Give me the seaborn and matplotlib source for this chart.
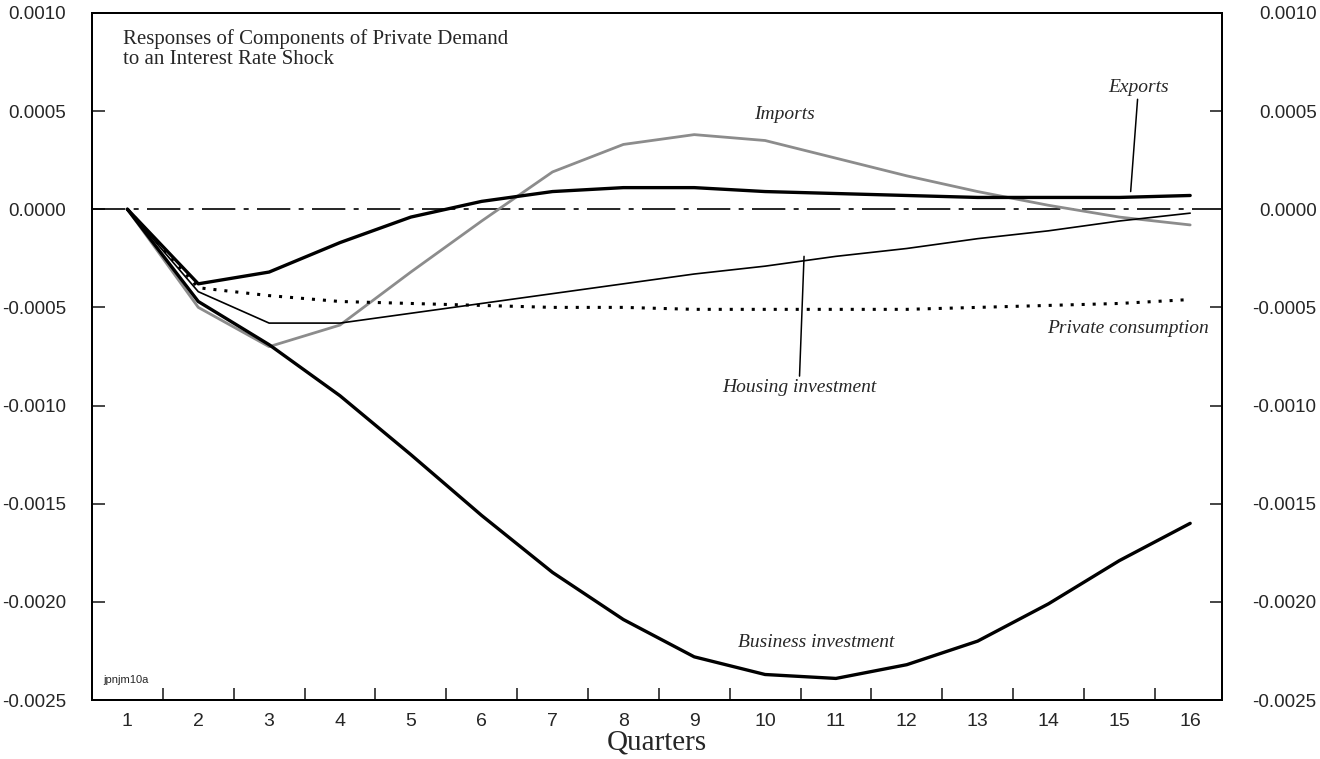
import seaborn as sns
import pandas as pd
import matplotlib.pyplot as plt
from matplotlib.ticker import FormatStrFormatter, MultipleLocator, FixedLocator

quarters = list(range(1, 17))
business = [0, -0.00047, -0.00069, -0.00095, -0.00125, -0.00156, -0.00185, -0.00209,
            -0.00228, -0.00237, -0.00239, -0.00232, -0.00220, -0.00201, -0.00179, -0.00160]
exports = [0, -0.00038, -0.00032, -0.00017, -0.00004, 0.00004, 0.00009, 0.00011,
           0.00011, 0.00009, 0.00008, 0.00007, 0.00006, 0.00006, 0.00006, 0.00007]
imports = [0, -0.00050, -0.00070, -0.00059, -0.00032, -0.00006, 0.00019, 0.00033,
           0.00038, 0.00035, 0.00026, 0.00017, 0.00009, 0.00002, -0.00004, -0.00008]
housing = [0, -0.00042, -0.00058, -0.00058, -0.00053, -0.00048, -0.00043, -0.00038,
           -0.00033, -0.00029, -0.00024, -0.00020, -0.00015, -0.00011, -0.00006, -0.00002]
consumption = [0, -0.00040, -0.00044, -0.00047, -0.00048, -0.00049, -0.00050, -0.00050,
               -0.00051, -0.00051, -0.00051, -0.00051, -0.00050, -0.00049, -0.00048, -0.00046]

df = pd.DataFrame({'Quarter': quarters, 'Business investment': business, 'Exports': exports,
                   'Imports': imports, 'Housing investment': housing,
                   'Private consumption': consumption})

sns.set_style('white')
plt.rcParams['font.family'] = ['Liberation Sans', 'DejaVu Sans']
serif = 'Liberation Serif'

fig = plt.figure(figsize=(13.2, 7.59), dpi=100)
ax = fig.add_axes([0.0697, 0.0777, 0.8561, 0.9053])

ax.axhline(0, color='black', lw=1.2, ls=(0, (20, 5, 3, 5)), zorder=1)

styles = {
    'Imports': dict(color='#8c8c8c', lw=2.0),
    'Housing investment': dict(color='black', lw=1.2),
    'Private consumption': dict(color='black', lw=2.2, ls=(0, (1, 2.6))),
    'Exports': dict(color='black', lw=2.4),
    'Business investment': dict(color='black', lw=2.4),
}
for name, st in styles.items():
    sns.lineplot(data=df, x='Quarter', y=name, ax=ax, color=st['color'],
                 linewidth=st['lw'], linestyle=st.get('ls', '-'))
for l in ax.lines:
    l.set_dash_capstyle('butt')

ylim = (-0.0025, 0.0010)
ax.set_xlim(0.5, 16.45)
ax.set_ylim(*ylim)
ax.xaxis.set_major_locator(FixedLocator(quarters))
ax.xaxis.set_minor_locator(FixedLocator([q + 0.5 for q in quarters[:-1]]))
ax.yaxis.set_major_locator(MultipleLocator(0.0005))
ax.yaxis.set_major_formatter(FormatStrFormatter('%.4f'))
ax.tick_params(axis='x', which='major', length=0, labelsize=14, pad=9)
ax.tick_params(axis='x', which='minor', direction='in', length=9, width=1.2, bottom=True)
ax.tick_params(axis='y', direction='in', length=9, width=1.2, left=True, right=False,
               labelsize=13.5, pad=18.5)

# right-hand copy of the value axis
ax2 = ax.twinx()
ax2.set_ylim(*ylim)
ax2.yaxis.set_major_locator(MultipleLocator(0.0005))
ax2.yaxis.set_major_formatter(FormatStrFormatter('%.4f'))
ax2.tick_params(axis='y', direction='in', length=9, width=1.2, labelsize=13.5, pad=68)
for lab in ax2.get_yticklabels():
    lab.set_horizontalalignment('right')
ax2.grid(False)

for a in (ax, ax2):
    for s in a.spines.values():
        s.set_linewidth(1.4)
        s.set_color('black')

ax.set_xlabel('Quarters', fontsize=21, family=serif, labelpad=0)
ax.set_ylabel('')
ax2.set_ylabel('')

ax.text(0.027, 0.977, 'Responses of Components of Private Demand\nto an Interest Rate Shock',
        transform=ax.transAxes, ha='left', va='top', fontsize=15, family=serif,
        linespacing=1.12)
ax.text(0.01, 0.022, 'jpnjm10a', transform=ax.transAxes, fontsize=8, ha='left', va='bottom')

ital = dict(fontsize=14, family=serif, style='italic')
ax.text(10.28, 0.000484, 'Imports', ha='center', va='center', **ital)
ax.text(10.72, -0.002207, 'Business investment', ha='center', va='center', **ital)
ax.text(16.27, -0.00061, 'Private consumption', ha='right', va='center', **ital)
ax.annotate('Exports', xy=(15.16, 0.00009), xytext=(15.27, 0.00062), ha='center',
            va='center', arrowprops=dict(arrowstyle='-', lw=1.1, color='black',
                                         shrinkA=0, shrinkB=0), **ital)
ax.annotate('Housing investment', xy=(10.55, -0.00024), xytext=(10.48, -0.00091),
            ha='center', va='center', arrowprops=dict(arrowstyle='-', lw=1.1, color='black',
                                                      shrinkA=0, shrinkB=0), **ital)

fig.savefig('out.png', dpi=100)
